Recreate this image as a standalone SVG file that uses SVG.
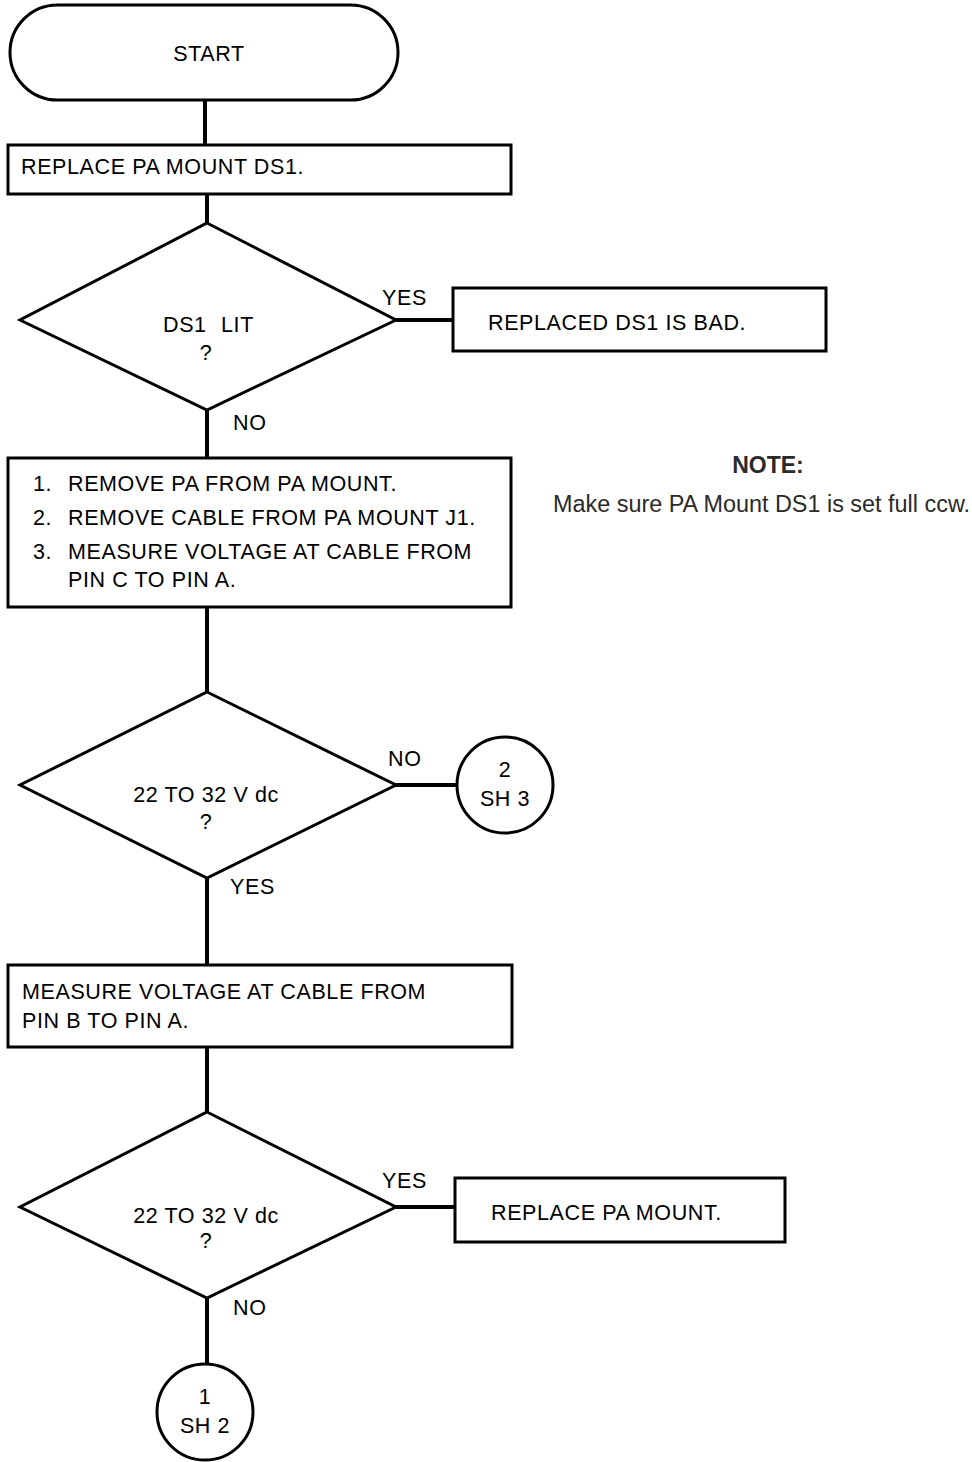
<svg xmlns="http://www.w3.org/2000/svg" width="972" height="1462" viewBox="0 0 972 1462">
<style>
.s{fill:#fff;stroke:#000;stroke-width:3}
.c{fill:none;stroke:#000;stroke-width:4}
text{font-family:"Liberation Sans",Arial,sans-serif;font-size:21.5px;letter-spacing:0.6px;fill:#000}
.m{text-anchor:middle}
.n{fill:#2a2a2a;letter-spacing:0}
</style>
<rect width="972" height="1462" fill="#fff"/>
<g id="connectors">
<line class="c" x1="205" y1="100" x2="205" y2="145"/>
<line class="c" x1="207" y1="194" x2="207" y2="223"/>
<line class="c" x1="396" y1="320" x2="453" y2="320"/>
<line class="c" x1="207" y1="410" x2="207" y2="458"/>
<line class="c" x1="207" y1="607" x2="207" y2="692"/>
<line class="c" x1="396" y1="785" x2="458" y2="785"/>
<line class="c" x1="207" y1="878" x2="207" y2="965"/>
<line class="c" x1="207" y1="1047" x2="207" y2="1112"/>
<line class="c" x1="396" y1="1207" x2="455" y2="1207"/>
<line class="c" x1="207" y1="1298" x2="207" y2="1365"/>
<text x="382" y="305">YES</text>
<text x="233" y="430">NO</text>
<text x="388" y="766">NO</text>
<text x="230" y="894">YES</text>
<text x="382" y="1188">YES</text>
<text x="233" y="1315">NO</text>
</g>
<g id="start">
<rect class="s" x="10" y="5" width="388" height="95" rx="47.5"/>
<text class="m" x="209" y="61">START</text>
</g>
<g id="replace-ds1">
<rect class="s" x="8" y="145" width="503" height="49"/>
<text x="21" y="174">REPLACE PA MOUNT DS1.</text>
</g>
<g id="ds1-lit">
<polygon class="s" points="207,223 396,320 207,410 20,320"/>
<text x="163" y="332">DS1<tspan x="221">LIT</tspan></text>
<text class="m" x="206" y="360">?</text>
</g>
<g id="replaced-bad">
<rect class="s" x="453" y="288" width="373" height="63"/>
<text x="488" y="330">REPLACED DS1 IS BAD.</text>
</g>
<g id="steps">
<rect class="s" x="8" y="458" width="503" height="149"/>
<text x="33" y="491">1.</text><text x="68" y="491">REMOVE PA FROM PA MOUNT.</text>
<text x="33" y="525">2.</text><text x="68" y="525">REMOVE CABLE FROM PA MOUNT J1.</text>
<text x="33" y="559">3.</text><text x="68" y="559">MEASURE VOLTAGE AT CABLE FROM</text>
<text x="68" y="587">PIN C TO PIN A.</text>
</g>
<g id="note">
<text class="m n" x="768" y="473" style="font-weight:bold;font-size:23px">NOTE:</text>
<text class="n" x="553" y="512" style="font-size:23px" textLength="417" lengthAdjust="spacingAndGlyphs">Make sure PA Mount DS1 is set full ccw.</text>
</g>
<g id="volt1">
<polygon class="s" points="207,692 396,785 207,878 20,785"/>
<text class="m" x="206" y="802">22 TO 32 V dc</text>
<text class="m" x="206" y="829">?</text>
</g>
<g id="sh3">
<circle class="s" cx="505" cy="785" r="48"/>
<text class="m" x="505" y="777">2</text>
<text class="m" x="505" y="806">SH 3</text>
</g>
<g id="measure-b">
<rect class="s" x="8" y="965" width="504" height="82"/>
<text x="22" y="999">MEASURE VOLTAGE AT CABLE FROM</text>
<text x="22" y="1028">PIN B TO PIN A.</text>
</g>
<g id="volt2">
<polygon class="s" points="207,1112 396,1207 207,1298 20,1207"/>
<text class="m" x="206" y="1223">22 TO 32 V dc</text>
<text class="m" x="206" y="1248">?</text>
</g>
<g id="replace-mount">
<rect class="s" x="455" y="1178" width="330" height="64"/>
<text x="491" y="1220">REPLACE PA MOUNT.</text>
</g>
<g id="sh2">
<circle class="s" cx="205" cy="1412" r="48"/>
<text class="m" x="205" y="1404">1</text>
<text class="m" x="205" y="1433">SH 2</text>
</g>
</svg>
